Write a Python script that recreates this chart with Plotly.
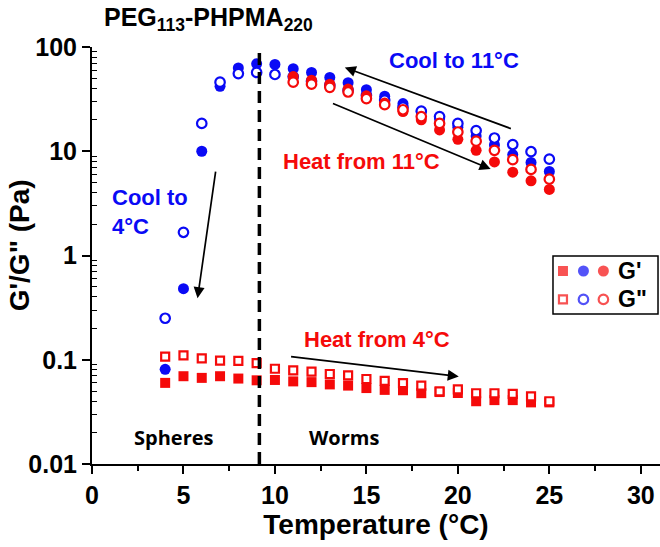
import plotly.graph_objects as go

# ---------------- data ----------------
T_cool = list(range(4, 26))          # cooling run 25 -> 4 C (blue circles)
Gp_cool = [0.081, 0.48, 10, 42, 63, 69, 68, 62, 57, 51, 45.5, 39, 33.7, 28.7,
           24, 20.5, 17, 14, 11.5, 9.3, 7.8, 6.4]
Gpp_cool = [0.25, 1.67, 18.5, 46, 55.6, 57, 54.5, 52, 47, 43, 38.5, 34.5, 31,
            26.5, 24.3, 21.5, 18.5, 15.8, 13.4, 11.6, 9.9, 8.4]

T_heat11 = list(range(11, 26))       # heating from 11 C (red circles)
Gp_heat11 = [52, 48, 44, 39.5, 34, 29, 24, 20, 16, 13, 10.2, 7.9, 6.3, 5.2, 4.3]
Gpp_heat11 = [46, 44, 41, 37, 32, 28, 25, 21.5, 18.5, 15.3, 12.5, 10.2, 8.3, 6.7, 5.4]

T_heat4 = list(range(4, 26))         # heating from 4 C (red squares)
Gp_heat4 = [0.060, 0.0695, 0.067, 0.0695, 0.066, 0.0635, 0.064, 0.062, 0.061,
            0.058, 0.0565, 0.0535, 0.0514, 0.051, 0.0478, 0.049, 0.048, 0.040,
            0.041, 0.041, 0.039, 0.039]
Gpp_heat4 = [0.107, 0.11, 0.103, 0.098, 0.0975, 0.093, 0.082, 0.079, 0.077,
             0.073, 0.0707, 0.0654, 0.0627, 0.0597, 0.0565, 0.0498, 0.052,
             0.0477, 0.0477, 0.047, 0.0445, 0.040]

boundary_T = 9.15
x_ticks = [0, 5, 10, 15, 20, 25, 30]
y_ticks = [0.01, 0.1, 1, 10, 100]
y_tick_text = ["0.01", "0.1", "1", "10", "100"]

BLUE = "#0a0af5"
RED = "#f50a0a"
FONT = "Liberation Sans, Arial, sans-serif"

fig = go.Figure()

def filled(x, y, color, symbol, size):
    return go.Scatter(x=x, y=y, mode="markers", showlegend=False,
                      marker=dict(symbol=symbol, size=size, color=color,
                                  line=dict(width=0)))

def opened(x, y, color, symbol, size):
    return go.Scatter(x=x, y=y, mode="markers", showlegend=False,
                      marker=dict(symbol=symbol, size=size, color="white",
                                  line=dict(width=2.2, color=color)))

fig.add_trace(filled(T_heat4, Gp_heat4, RED, "square", 10))
fig.add_trace(opened(T_heat4, Gpp_heat4, RED, "square", 8))
fig.add_trace(filled(T_cool, Gp_cool, BLUE, "circle", 11))
fig.add_trace(opened(T_cool, Gpp_cool, BLUE, "circle", 9.5))
fig.add_trace(filled(T_heat11, Gp_heat11, RED, "circle", 11))
fig.add_trace(opened(T_heat11, Gpp_heat11, RED, "circle", 9.5))

# legend key (custom, three symbols per row) on a small hidden subplot
leg_x = [0.095, 0.29, 0.48]
fig.add_trace(go.Scatter(x=leg_x, y=[0.74] * 3, mode="markers", xaxis="x2", yaxis="y2",
                         showlegend=False, hoverinfo="skip",
                         marker=dict(symbol=["square", "circle", "circle"], size=[10, 11, 11],
                                     color=[RED, BLUE, RED], line=dict(width=0))))
fig.add_trace(go.Scatter(x=leg_x, y=[0.25] * 3, mode="markers", xaxis="x2", yaxis="y2",
                         showlegend=False, hoverinfo="skip",
                         marker=dict(symbol=["square", "circle", "circle"], size=[8, 9.5, 9.5],
                                     color="white", line=dict(width=2.2, color=[RED, BLUE, RED]))))

# phase boundary
fig.add_shape(type="line", x0=boundary_T, x1=boundary_T, xref="x", y0=0, y1=1.0, yref="paper",
              line=dict(color="black", width=3.5, dash="12px,7px"))
# legend box
fig.add_shape(type="rect", xref="x2 domain", yref="y2 domain", x0=0, x1=1, y0=0, y1=1,
              line=dict(color="black", width=1.5), fillcolor="rgba(0,0,0,0)")

def txt(text, x, y, color, size=22, xanchor="center", xref="x", yref="y", family=FONT, align="center"):
    fig.add_annotation(text=text, x=x, y=y, xref=xref, yref=yref, showarrow=False,
                       xanchor=xanchor, yanchor="middle", align=align,
                       font=dict(family=family, size=size, color=color))

def arrow(x_tail, y_tail, x_head, y_head):
    # y values in log10 units (log axis)
    fig.add_annotation(x=x_head, y=y_head, ax=x_tail, ay=y_tail, xref="x", yref="y",
                       axref="x", ayref="y", text="", showarrow=True,
                       arrowhead=2, arrowsize=1.3, arrowwidth=1.7, arrowcolor="black")

txt("<b>Cool to 11°C</b>", 19.8, 1.873, BLUE)
txt("<b>Heat from 11°C</b>", 14.75, 0.898, RED)
txt("<b>Cool to<br>4°C</b>", 1.0, 0.42, BLUE, xanchor="left", align="left")
txt("<b>Heat from 4°C</b>", 15.6, -0.81, RED)
txt("<b>Spheres</b>", 4.47, -1.75, "black", size=20, family="Open Sans, sans-serif")
txt("<b>Worms</b>", 13.75, -1.75, "black", size=20, family="Open Sans, sans-serif")

arrow(6.77, 0.82, 5.77, -0.41)
arrow(22.98, 1.212, 13.82, 1.803)
arrow(13.09, 1.464, 21.79, 0.829)
arrow(10.8, -0.969, 20.05, -1.161)

# legend labels
txt("<b>G'</b>", 0.6, 0.74, "black", size=23, xanchor="left", xref="x2", yref="y2")
txt("<b>G\"</b>", 0.6, 0.25, "black", size=23, xanchor="left", xref="x2", yref="y2")

# title
fig.add_annotation(text="<b>PEG<sub>113</sub>-PHPMA<sub>220</sub></b>", xref="paper", yref="paper",
                   x=0.017, y=1.066, xanchor="left", yanchor="middle", showarrow=False,
                   font=dict(family=FONT, size=25, color="black"))
# y title
fig.add_annotation(text="<b>G'/G\" (Pa)</b>", xref="paper", yref="paper", x=-0.128, y=0.525,
                   textangle=-90, xanchor="center", yanchor="middle", showarrow=False,
                   font=dict(family=FONT, size=28, color="black"))

minor_y = [k * 10 ** e for e in range(-2, 2) for k in range(2, 10)]

fig.update_layout(
    width=660, height=547,
    margin=dict(l=92, r=0, t=47, b=83),
    paper_bgcolor="white", plot_bgcolor="white",
    font=dict(family=FONT, color="black"),
    xaxis=dict(range=[0, 31.05], tickvals=x_ticks, showgrid=False, zeroline=False,
               showline=True, linecolor="black", linewidth=2,
               ticks="outside", ticklen=8, tickwidth=2, tickcolor="black",
               minor=dict(tickvals=[2.5, 7.5, 12.5, 17.5, 22.5, 27.5], ticks="outside",
                          ticklen=5, tickwidth=1.5, tickcolor="black"),
               tickfont=dict(family=FONT, size=25, color="black", weight="bold"),
               title=dict(text="<b>Temperature (°C)</b>", standoff=4,
                          font=dict(family=FONT, size=28, color="black"))),
    yaxis=dict(type="log", range=[-2, 2], tickvals=y_ticks, ticktext=y_tick_text,
               showgrid=False, zeroline=False, showline=True, linecolor="black", linewidth=2,
               ticks="outside", ticklen=8, tickwidth=2, tickcolor="black",
               minor=dict(tickvals=minor_y, ticks="inside", ticklen=5, tickwidth=1.2,
                          tickcolor="black"),
               tickfont=dict(family=FONT, size=25, color="black", weight="bold")),
    xaxis2=dict(domain=[0.8116, 0.9965], range=[0, 1], anchor="y2", visible=False,
                fixedrange=True),
    yaxis2=dict(domain=[0.36, 0.499], range=[0, 1], anchor="x2", visible=False,
                fixedrange=True),
)

fig.write_html("out.html", config={"displayModeBar": False},
               post_script="document.body.style.margin='0';document.body.style.overflow='hidden';")
